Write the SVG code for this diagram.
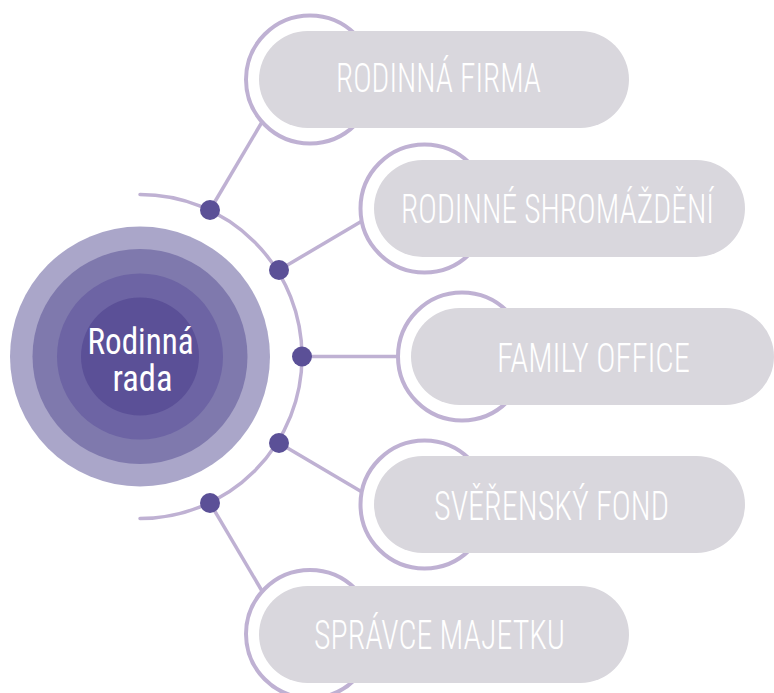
<svg xmlns="http://www.w3.org/2000/svg" width="774" height="693" viewBox="0 0 774 693">
<style>
.ring{fill:#ffffff;stroke:#bfb1d3;stroke-width:4}
.pill{fill:#d9d7dd}
.lbl{font-family:Roboto,"Liberation Sans",sans-serif;font-weight:300;font-size:40px;font-stretch:condensed;fill:#ffffff}
.ctr{font-family:Roboto,"Liberation Sans",sans-serif;font-weight:400;font-size:36px;font-stretch:condensed;fill:#ffffff}
.con{stroke:#bfb1d3;stroke-width:3.5;fill:none}
.dot{fill:#5b5097}
</style>
<rect width="774" height="693" fill="#ffffff"/>
<g id="connectors">
<path class="con" d="M140 194.5 A162 162 0 0 1 140 518.5" stroke-width="4.5" stroke-linecap="round"/>
<line class="con" x1="210" y1="210" x2="262" y2="122"/>
<line class="con" x1="279" y1="270" x2="362" y2="221"/>
<line class="con" x1="302" y1="356.5" x2="398" y2="356.5"/>
<line class="con" x1="279" y1="443" x2="362" y2="492"/>
<line class="con" x1="210" y1="503" x2="262" y2="591"/>
<circle class="dot" cx="210" cy="210" r="10"/>
<circle class="dot" cx="279" cy="270" r="10"/>
<circle class="dot" cx="302" cy="356.5" r="10"/>
<circle class="dot" cx="279" cy="443" r="10"/>
<circle class="dot" cx="210" cy="503" r="10"/>
</g>
<g id="center">
<circle cx="140" cy="356.5" r="130" fill="#aaa6c9"/>
<circle cx="140" cy="356.5" r="107.5" fill="#7f79ad"/>
<circle cx="140" cy="356.5" r="83" fill="#6d64a4"/>
<circle cx="140" cy="356.5" r="59" fill="#5b5097"/>
<text class="ctr" x="87.5" y="353.5" textLength="106" lengthAdjust="spacingAndGlyphs">Rodinná</text>
<text class="ctr" x="112.5" y="390.5" textLength="60" lengthAdjust="spacingAndGlyphs">rada</text>
</g>
<g id="node-firma">
<circle class="ring" cx="310" cy="79.5" r="64"/>
<rect class="pill" x="259" y="31" width="370" height="97" rx="48.5"/>
<text class="lbl" x="336" y="92" textLength="205" lengthAdjust="spacingAndGlyphs">RODINNÁ FIRMA</text>
</g>
<g id="node-shromazdeni">
<circle class="ring" cx="424.5" cy="208.5" r="64"/>
<rect class="pill" x="374" y="160" width="371" height="97" rx="48.5"/>
<text class="lbl" x="401" y="223" textLength="313" lengthAdjust="spacingAndGlyphs">RODINNÉ SHROMÁŽDĚNÍ</text>
</g>
<g id="node-office">
<circle class="ring" cx="462" cy="356.5" r="64"/>
<rect class="pill" x="411" y="308" width="363" height="97" rx="48.5"/>
<text class="lbl" x="497" y="371.5" textLength="193" lengthAdjust="spacingAndGlyphs">FAMILY OFFICE</text>
</g>
<g id="node-fond">
<circle class="ring" cx="424.5" cy="504.5" r="64"/>
<rect class="pill" x="374" y="456" width="371" height="97" rx="48.5"/>
<text class="lbl" x="434" y="519.5" textLength="235" lengthAdjust="spacingAndGlyphs">SVĚŘENSKÝ FOND</text>
</g>
<g id="node-spravce">
<circle class="ring" cx="310" cy="634" r="64"/>
<rect class="pill" x="259" y="586" width="370" height="97" rx="48.5"/>
<text class="lbl" x="314" y="649" textLength="251" lengthAdjust="spacingAndGlyphs">SPRÁVCE MAJETKU</text>
</g>
</svg>
